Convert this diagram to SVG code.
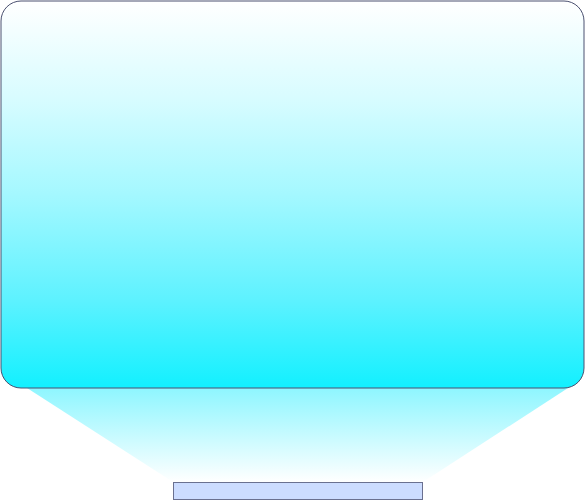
<svg xmlns="http://www.w3.org/2000/svg" width="586" height="500" viewBox="0 0 586 500">
<defs>
<linearGradient id="screen" x1="0" y1="0" x2="0" y2="1">
<stop offset="0" stop-color="#ffffff"/>
<stop offset="0.25" stop-color="#d8fcff"/>
<stop offset="0.5" stop-color="#a4f8ff"/>
<stop offset="0.77" stop-color="#5ef2ff"/>
<stop offset="1" stop-color="#12f0ff"/>
</linearGradient>
<linearGradient id="beam" x1="0" y1="0" x2="0" y2="1">
<stop offset="0" stop-color="#8ef6ff"/>
<stop offset="1" stop-color="#ffffff"/>
</linearGradient>
</defs>
<style>
.frame{stroke:#4a5070;stroke-width:1}
</style>
<g id="beam-node">
<polygon points="27,388 568,388 423,482 173,482" fill="url(#beam)"/>
</g>
<g id="screen-node">
<rect x="1" y="1" width="583" height="387" rx="20" ry="20" fill="url(#screen)" class="frame"/>
</g>
<g id="base-node">
<rect x="173.5" y="482.5" width="249" height="17" fill="#ccdcff" stroke="#6a7090" stroke-width="1"/>
</g>
<g id="connectors"/>
</svg>
